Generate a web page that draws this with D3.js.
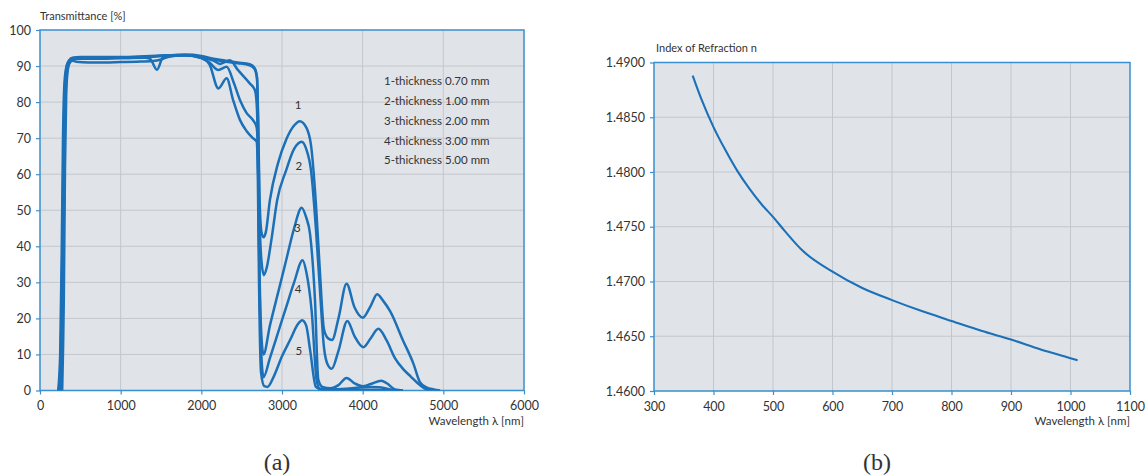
<!DOCTYPE html>
<html>
<head>
<meta charset="utf-8">
<script src="https://cdn.jsdelivr.net/npm/d3@7"></script>
<style>
  html, body { margin: 0; padding: 0; background: #ffffff; }
  svg { display: block; }
  text { font-family: Lato, "Open Sans", sans-serif; fill: #333; }
</style>
</head>
<body>
<svg id="chart" width="1145" height="475"></svg>
<script>
// ---------------- Data: chart (a) Transmittance ----------------
const xTicksA = [0, 1000, 2000, 3000, 4000, 5000, 6000];
const yTicksA = [0, 10, 20, 30, 40, 50, 60, 70, 80, 90, 100];

const wl1 = [225,250,270,285,300,320,350,400,500,700,1000,1300,1600,1800,2000,2150,2300,2450,2600,2660,2690,2705,2720,2745,2770,2800,2850,2950,3050,3150,3220,3300,3360,3420,3470,3520,3570,3620,3700,3800,3900,4000,4100,4180,4250,4340,4500,4630,4710,4790,4880,4960];
const t1  = [0,10,40,70,84,89,91.2,92.2,92.5,92.5,92.5,92.7,93,93.2,92.8,92,91.5,91,90.5,89.5,87,75,55,44,42.5,44,52.8,63,69.5,73.5,74.7,73,68,52,33,17,14.5,14,20,29.6,23,20.2,23.5,26.7,25,22,13.9,7.4,2.3,0.9,0.3,0];

const wl2 = [235,260,280,295,310,330,360,400,500,700,1000,1300,1600,1800,2000,2150,2300,2450,2600,2660,2690,2705,2720,2745,2775,2810,2870,2940,3050,3150,3244,3300,3360,3420,3470,3520,3570,3616,3700,3810,3900,4008,4100,4194,4297,4400,4500,4600,4670,4773,4850];
const t2  = [0,12,45,72,85,89.5,91.5,92.3,92.4,92.4,92.4,92.6,92.9,93,92.6,91.8,91.2,90.8,90.2,89.2,86.5,72,50,36,32,34,42,52.8,61,67,69,67,61,45,28,12,7,6,11,19.3,15,12,14.5,17.1,13.9,9,6,3.8,2.3,0.5,0];

const wl3 = [245,270,290,305,320,340,370,420,500,700,1000,1300,1600,1800,2000,2150,2230,2300,2355,2450,2600,2665,2690,2705,2720,2745,2770,2850,2950,3050,3150,3244,3300,3347,3409,3450,3500,3600,3700,3800,3900,4000,4100,4230,4300,4400,4500];
const t3  = [0,15,50,75,86,90,91.5,92,92.2,92.2,92.2,92.5,92.9,93,92.4,91.5,90.6,91.2,91.6,89,85.2,83.3,78,60,35,15,10,18,27,36,45,50.7,48,43.5,25,3,1,0.6,1.5,3.5,2,1.2,1.8,2.7,2,0.3,0];

const wl4 = [260,280,300,315,330,350,380,430,500,700,1000,1300,1364,1450,1525,1600,1800,2000,2100,2211,2314,2400,2480,2560,2640,2686,2700,2715,2740,2770,2850,2950,3050,3150,3256,3300,3368,3430,3470,3600,3800,4000,4100,4200,4300,4400];
const t4  = [0,20,58,80,87,90,91.5,92,92,92,92.2,92.3,92,89,92.5,93,93,92.3,91,88.9,89.8,85.5,80.5,77,75,73,68,40,12,3.7,9,16,23,30,36.1,33,22,2.8,0.5,0.3,0.5,0.9,1,0.9,0.5,0];

const wl5 = [275,295,310,325,340,360,400,450,600,800,1000,1200,1400,1500,1600,1800,2000,2100,2211,2314,2395,2480,2560,2640,2686,2700,2715,2740,2780,2820,2900,3000,3100,3200,3250,3300,3350,3420,3500,4000,4500];
const t5  = [0,25,62,82,88,90.5,91.5,91.2,91,91,91.1,91.2,91.4,91.8,92.6,93,92.2,90.5,83.8,86.6,80.5,75,72,70,69,60,30,5,1.2,1,4,9.5,14,18.5,19.5,18,11,1,0.2,0.2,0];

const curveNames = ["1", "2", "3", "4", "5"];
const curveLabelX = [3200, 3210, 3190, 3200, 3210];
const curveLabelY = [79.4, 62.5, 45.3, 28.3, 11.1];
const legendItems = ["1-thickness 0.70 mm", "2-thickness 1.00 mm", "3-thickness 2.00 mm", "4-thickness 3.00 mm", "5-thickness 5.00 mm"];

// ---------------- Data: chart (b) Index of refraction ----------------
const xTicksB = [300, 400, 500, 600, 700, 800, 900, 1000, 1100];
const yTicksB = [1.4600, 1.4650, 1.4700, 1.4750, 1.4800, 1.4850, 1.4900];
const wlN = [365, 380, 400, 420, 440, 460, 480, 500, 520, 550, 600, 650, 700, 750, 800, 850, 900, 950, 1000, 1012];
const nIdx = [1.4888, 1.4866, 1.4841, 1.4820, 1.4801, 1.4785, 1.4771, 1.4759, 1.4746, 1.4728, 1.4709, 1.4694, 1.4683, 1.4673, 1.4664, 1.4655, 1.4647, 1.4638, 1.4630, 1.4628];

// ---------------- Styles ----------------
const LINE = "#1c70b8";
const FRAME = "#3a8fd0";
const BG = "#e0e4e8";
const GRID = "#c3c7cc";

const svg = d3.select("#chart");

function panel(opts) {
  const {x, y, xTicks, yTicks, yFmt, title, titleX, titleY, xlabelY} = opts;
  const [x0, x1] = x.range();
  const [y0, y1] = y.range(); // y0 bottom, y1 top
  const g = svg.append("g");
  g.append("rect").attr("x", x0).attr("y", y1).attr("width", x1 - x0).attr("height", y0 - y1)
    .attr("fill", BG);
  // grid
  g.append("g").selectAll("line").data(xTicks.slice(1, -1)).join("line")
    .attr("x1", d => x(d)).attr("x2", d => x(d)).attr("y1", y1).attr("y2", y0)
    .attr("stroke", GRID).attr("stroke-width", 1);
  g.append("g").selectAll("line").data(yTicks.slice(1, -1)).join("line")
    .attr("y1", d => y(d)).attr("y2", d => y(d)).attr("x1", x0).attr("x2", x1)
    .attr("stroke", GRID).attr("stroke-width", 1);
  // axes
  const ax = g.append("g").attr("transform", `translate(0,${y0})`)
    .call(d3.axisBottom(x).tickValues(xTicks).tickSize(4).tickPadding(7).tickFormat(d3.format("d")));
  const ay = g.append("g").attr("transform", `translate(${x0},0)`)
    .call(d3.axisLeft(y).tickValues(yTicks).tickSize(4).tickPadding(5).tickFormat(yFmt));
  [ax, ay].forEach(a => {
    a.select(".domain").remove();
    a.selectAll(".tick line").attr("stroke", FRAME).attr("stroke-width", 1.2);
    a.selectAll(".tick text").attr("fill", "#2b2b2b").style("font-size", "12.5px")
      .style("font-family", "Lato, 'Open Sans', sans-serif");
  });
  // frame
  g.append("rect").attr("x", x0).attr("y", y1).attr("width", x1 - x0).attr("height", y0 - y1)
    .attr("fill", "none").attr("stroke", FRAME).attr("stroke-width", 1.5);
  // titles
  g.append("text").attr("x", titleX).attr("y", titleY).style("font-size", "11px").text(title);
  g.append("text").attr("x", x1).attr("y", xlabelY).attr("text-anchor", "end")
    .style("font-size", "11.5px").text("Wavelength λ [nm]");
  return g;
}

// ---------- Chart (a) ----------
const xA = d3.scaleLinear().domain([0, 6000]).range([40, 524]);
const yA = d3.scaleLinear().domain([0, 100]).range([390.5, 30]);
const gA = panel({x: xA, y: yA, xTicks: xTicksA, yTicks: yTicksA, yFmt: d3.format("d"),
  title: "Transmittance [%]", titleX: 40, titleY: 20, xlabelY: 425});

const seriesA = [[wl1, t1], [wl2, t2], [wl3, t3], [wl4, t4], [wl5, t5]];
const lineA = d3.line().x(d => xA(d[0])).y(d => yA(d[1])).curve(d3.curveMonotoneX);
svg.append("clipPath").attr("id", "clipA").append("rect")
  .attr("x", 40).attr("y", 30).attr("width", 484).attr("height", 360.5);
gA.append("g").attr("clip-path", "url(#clipA)").selectAll("path")
  .data(seriesA.map(([w, t]) => w.map((v, i) => [v, t[i]])))
  .join("path").attr("d", lineA).attr("fill", "none")
  .attr("stroke", LINE).attr("stroke-width", 2.5).attr("stroke-linejoin", "round");

gA.append("g").selectAll("text").data(curveNames).join("text")
  .attr("x", (d, i) => xA(curveLabelX[i])).attr("y", (d, i) => yA(curveLabelY[i]))
  .attr("text-anchor", "middle").attr("dominant-baseline", "central")
  .style("font-size", "11.5px").text(d => d);

gA.append("g").selectAll("text").data(legendItems).join("text")
  .attr("x", 384).attr("y", (d, i) => 80.7 + i * 19.8)
  .attr("dominant-baseline", "central").style("font-size", "11.5px").text(d => d);

// ---------- Chart (b) ----------
const xB = d3.scaleLinear().domain([300, 1100]).range([654, 1130]);
const yB = d3.scaleLinear().domain([1.46, 1.49]).range([391, 62.5]);
const gB = panel({x: xB, y: yB, xTicks: xTicksB, yTicks: yTicksB, yFmt: d3.format(".4f"),
  title: "Index of Refraction n", titleX: 656, titleY: 52, xlabelY: 425});
const lineB = d3.line().x(d => xB(d[0])).y(d => yB(d[1])).curve(d3.curveMonotoneX);
gB.append("path").datum(wlN.map((v, i) => [v, nIdx[i]])).attr("d", lineB)
  .attr("fill", "none").attr("stroke", LINE).attr("stroke-width", 2.1);

// ---------- Captions ----------
svg.append("text").attr("x", 277).attr("y", 470).attr("text-anchor", "middle")
  .style("font-family", "'Liberation Serif', 'DejaVu Serif', serif").style("font-size", "24px").text("(a)");
svg.append("text").attr("x", 877).attr("y", 470).attr("text-anchor", "middle")
  .style("font-family", "'Liberation Serif', 'DejaVu Serif', serif").style("font-size", "24px").text("(b)");
</script>
</body>
</html>
